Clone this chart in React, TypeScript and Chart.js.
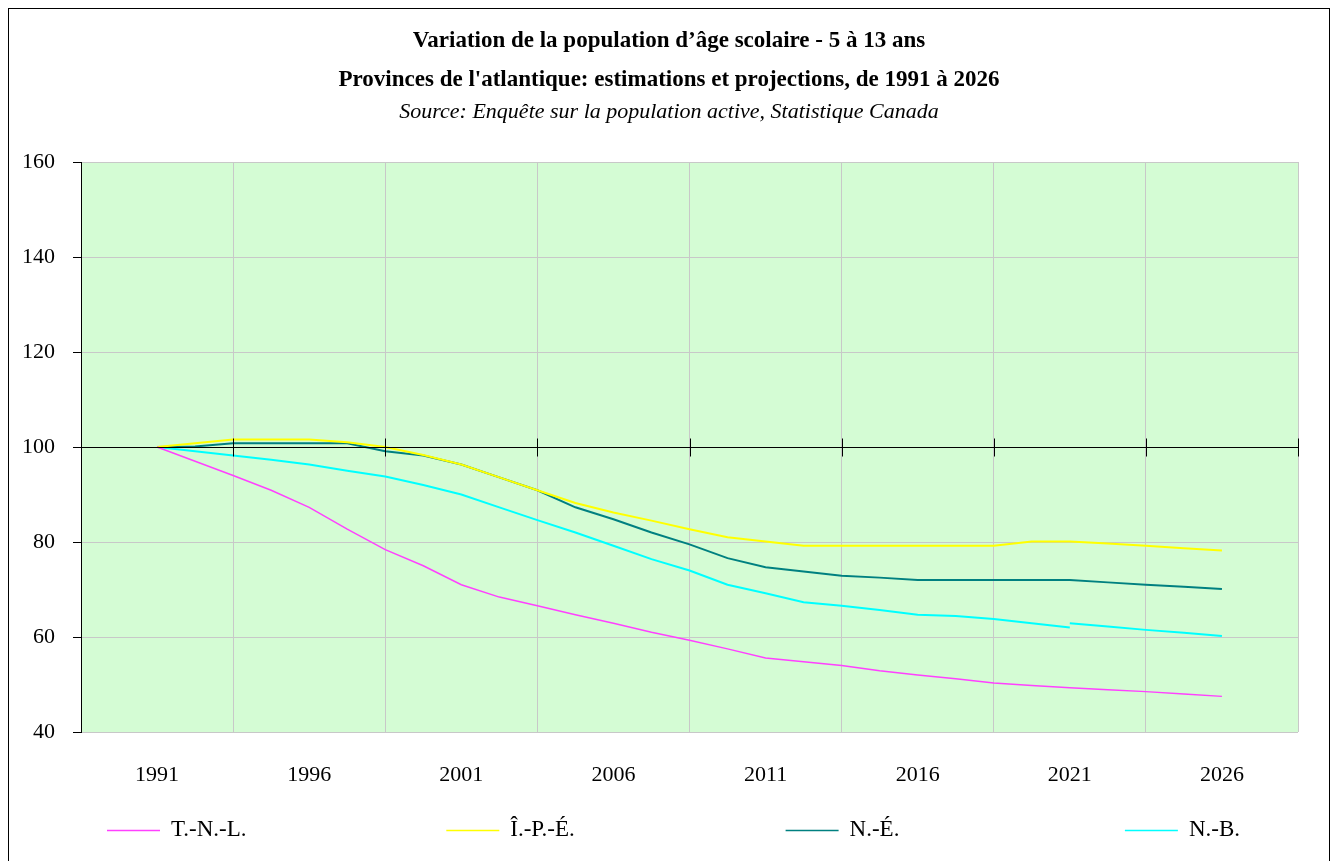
import React, { useEffect, useRef } from "react";
import { Chart, registerables } from "chart.js";

Chart.register(...registerables);

// ---------- data ----------
const titleLines = [
  "Variation de la population d\u2019âge scolaire - 5 à 13 ans",
  "Provinces de l'atlantique: estimations et projections, de 1991 à 2026",
];
const sourceLine = "Source: Enquête sur la population active, Statistique Canada";

// x positions of the plotted points (years)
const years = [
  1991, 1992.25, 1993.5, 1994.75, 1996, 1997.25, 1998.5, 1999.75, 2001, 2002.25,
  2003.5, 2004.75, 2006, 2007.25, 2008.5, 2009.75, 2011, 2012.25, 2013.5, 2014.75,
  2016, 2017.25, 2018.5, 2019.75, 2021, 2022.25, 2023.5, 2024.75, 2026,
];

const tnlValues = [
  100, 97.0, 94.0, 90.9, 87.3, 82.7, 78.4, 75.0, 71.0, 68.4,
  66.6, 64.7, 62.9, 61.0, 59.3, 57.5, 55.6, 54.8, 54.0, 52.9,
  52.0, 51.2, 50.3, 49.8, 49.3, 48.9, 48.5, 48.0, 47.5,
];
const ipeValues = [
  100, 100.8, 101.6, 101.6, 101.6, 101.0, 100.0, 98.3, 96.3, 93.6,
  90.9, 88.2, 86.2, 84.5, 82.7, 81.0, 80.1, 79.2, 79.2, 79.2,
  79.2, 79.2, 79.2, 80.1, 80.1, 79.7, 79.2, 78.7, 78.2,
];
const neValues = [
  100, 100.1, 100.8, 100.8, 100.8, 100.8, 99.1, 98.2, 96.3, 93.6,
  90.9, 87.3, 84.8, 82.0, 79.5, 76.6, 74.7, 73.8, 72.9, 72.5,
  72.0, 72.0, 72.0, 72.0, 72.0, 71.5, 71.0, 70.6, 70.1,
];
// N.-B. is drawn in two pieces (a small break appears near 2021)
const nbValues = [
  100, 99.1, 98.2, 97.3, 96.3, 95.0, 93.8, 92.0, 90.0, 87.3,
  84.6, 82.0, 79.2, 76.4, 74.0, 71.0, 69.2, 67.3, 66.6, 65.7,
  64.7, 64.4, 63.8, 62.9, 62.0,
];
const nbTailValues = [62.9, 62.2, 61.5, 60.9, 60.2];

const seriesNames = ["T.-N.-L.", "Î.-P.-É.", "N.-É.", "N.-B."];
const seriesColors = ["#ff40ff", "#ffff00", "#008080", "#00ffff"];

const gridYears = [1988.5, 1993.5, 1998.5, 2003.5, 2008.5, 2013.5, 2018.5, 2023.5, 2028.5];
const labelYears = [1991, 1996, 2001, 2006, 2011, 2016, 2021, 2026];
const yTicks = [40, 60, 80, 100, 120, 140, 160];

const FONT = "'Liberation Serif', 'Times New Roman', serif";

const pts = (xs: number[], ys: number[]) => ys.map((y, i) => ({ x: xs[i], y }));

export default function App() {
  const ref = useRef<HTMLCanvasElement | null>(null);

  useEffect(() => {
    const canvas = ref.current;
    if (!canvas) return;

    const plotBg = {
      id: "plotBg",
      beforeDraw(chart: any) {
        const { ctx, chartArea: a } = chart;
        ctx.save();
        ctx.fillStyle = "#d4fcd4";
        ctx.fillRect(a.left, a.top, a.right - a.left, a.bottom - a.top);
        ctx.restore();
      },
    };

    const axisCross = {
      id: "axisCross",
      afterDatasetsDraw(chart: any) {
        const { ctx, scales } = chart;
        const y0 = Math.round(scales.y.getPixelForValue(100)) + 0.5;
        ctx.save();
        ctx.strokeStyle = "#000";
        ctx.lineWidth = 1;
        ctx.beginPath();
        ctx.moveTo(scales.x.left, y0);
        ctx.lineTo(scales.x.right, y0);
        gridYears.forEach((v) => {
          const px = Math.round(scales.x.getPixelForValue(v)) + 0.5;
          ctx.moveTo(px, y0 - 9);
          ctx.lineTo(px, y0 + 9);
        });
        ctx.stroke();
        ctx.restore();
      },
    };

    const texts = {
      id: "texts",
      afterDraw(chart: any) {
        const { ctx } = chart;
        const cx = chart.width / 2;
        ctx.save();
        ctx.fillStyle = "#000";
        ctx.textAlign = "center";
        ctx.textBaseline = "middle";
        ctx.font = `bold 23px ${FONT}`;
        ctx.fillText(titleLines[0], cx, 32);
        ctx.fillText(titleLines[1], cx, 71);
        ctx.font = `italic 22px ${FONT}`;
        ctx.fillText(sourceLine, cx, 103);

        // legend
        const ly = 821;
        ctx.font = `23px ${FONT}`;
        ctx.textAlign = "left";
        seriesNames.forEach((name, i) => {
          const x0 = 98 + i * 339.3;
          ctx.strokeStyle = seriesColors[i];
          ctx.lineWidth = 1.5;
          ctx.beginPath();
          ctx.moveTo(x0, ly + 0.5);
          ctx.lineTo(x0 + 53, ly + 0.5);
          ctx.stroke();
          ctx.fillText(name, x0 + 64, ly);
        });
        ctx.restore();
      },
    };

    const mk = (i: number, data: any[], width: number) => ({
      label: seriesNames[i],
      data,
      borderColor: seriesColors[i],
      backgroundColor: seriesColors[i],
      borderWidth: width,
      pointRadius: 0,
      tension: 0,
      fill: false,
    });

    const chart = new Chart(canvas, {
      type: "line",
      data: {
        datasets: [
          mk(0, pts(years, tnlValues), 1.5),
          mk(1, pts(years, ipeValues), 2),
          mk(2, pts(years, neValues), 2),
          mk(3, pts(years, nbValues), 2),
          mk(3, pts(years.slice(nbValues.length - 1), nbTailValues), 2),
        ],
      },
      options: {
        responsive: false,
        animation: false,
        devicePixelRatio: 1,
        layout: { padding: { left: 0, right: 31, top: 153, bottom: 87 } },
        plugins: {
          legend: { display: false },
          title: { display: false },
          tooltip: { enabled: false },
        },
        scales: {
          x: {
            type: "linear",
            min: gridYears[0],
            max: gridYears[gridYears.length - 1],
            afterBuildTicks: (s: any) => {
              const all = [...gridYears, ...labelYears].sort((a, b) => a - b);
              s.ticks = all.map((v) => ({ value: v }));
            },
            afterFit: (s: any) => {
              s.height = 60;
            },
            ticks: {
              autoSkip: false,
              maxRotation: 0,
              padding: 30,
              color: "#000",
              font: { family: FONT, size: 22 },
              callback: (v: any) => (labelYears.includes(Number(v)) ? String(v) : ""),
            },
            grid: {
              drawTicks: false,
              lineWidth: 1,
              color: (c: any) => {
                const v = c.tick ? c.tick.value : NaN;
                if (c.index === 0) return "rgba(0,0,0,0)";
                return gridYears.includes(v) ? "#c8c8c8" : "rgba(0,0,0,0)";
              },
            },
            border: { display: false },
          },
          y: {
            type: "linear",
            min: yTicks[0],
            max: yTicks[yTicks.length - 1],
            afterBuildTicks: (s: any) => {
              s.ticks = yTicks.map((v) => ({ value: v }));
            },
            afterFit: (s: any) => {
              s.width = 72;
            },
            ticks: {
              padding: 18,
              color: "#000",
              font: { family: FONT, size: 22 },
            },
            grid: {
              drawTicks: true,
              tickLength: 8,
              tickColor: "#000",
              lineWidth: 1,
              color: (c: any) => (c.tick && c.tick.value === 100 ? "#000" : "#c8c8c8"),
            },
            border: { display: true, color: "#000", width: 1 },
          },
        },
      },
      plugins: [plotBg, axisCross, texts],
    } as any);

    return () => chart.destroy();
  }, []);

  return (
    <div
      style={{
        width: 1322,
        height: 872,
        border: "1px solid #000",
        boxSizing: "border-box",
        background: "#fff",
      }}
    >
      <canvas ref={ref} width={1320} height={870} style={{ display: "block" }} />
    </div>
  );
}
